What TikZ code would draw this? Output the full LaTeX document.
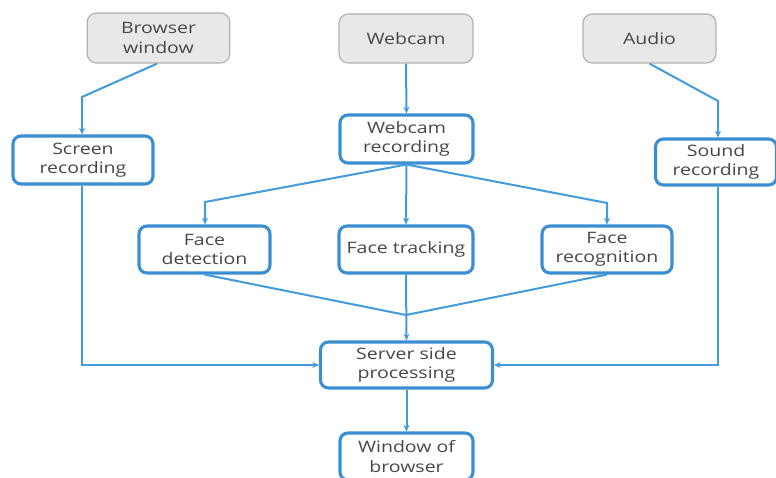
\documentclass[tikz,border=0pt]{standalone}
\usepackage{fontspec}
\setmainfont{Open Sans}[FakeStretch=1.24]
\usetikzlibrary{arrows.meta,calc}
\definecolor{lblue}{HTML}{429BDA}
\definecolor{bblue}{HTML}{3A8FD2}
\definecolor{gfill}{HTML}{E8E8E8}
\definecolor{gline}{HTML}{B2B2B2}
\definecolor{txt}{HTML}{474747}
\begin{document}
\begin{tikzpicture}[x=0.75pt,y=-0.75pt,
  base/.style={align=center,text=txt,font=\fontsize{11.8pt}{14.5pt}\selectfont,inner sep=0pt},
  srcbox/.style={base,rectangle,rounded corners=7pt,draw=gline,line width=0.9pt,fill=gfill},
  procbox/.style={base,rectangle,rounded corners=6pt,draw=bblue,line width=2.3pt,fill=white},
  conn/.style={draw=lblue,line width=1.5pt},
  arr/.style={conn,-{Stealth[length=5pt,width=4.5pt]}}]
\useasboundingbox (0,0) rectangle (776,478);
\fill[white] (0,0) rectangle (776,478);
% sources
\node[srcbox,minimum width=107pt,minimum height=37.5pt] (bw) at (158.5,38) {Browser\\window};
\node[srcbox,minimum width=100.5pt,minimum height=36.75pt] (wc) at (406,38.5) {Webcam};
\node[srcbox,minimum width=99.75pt,minimum height=36.75pt] (au) at (649.5,38.5) {Audio};
% recordings
\node[procbox,minimum width=105pt,minimum height=36pt] (sr) at (83,160) {Screen\\recording};
\node[procbox,minimum width=99.75pt,minimum height=36pt] (wr) at (406.5,139) {Webcam\\recording};
\node[procbox,minimum width=90.75pt,minimum height=34.5pt] (so) at (716,162) {Sound\\recording};
% face
\node[procbox,minimum width=98.25pt,minimum height=35.25pt] (fd) at (204.5,249.5) {Face\\detection};
\node[procbox,minimum width=100.5pt,minimum height=35.25pt] (ft) at (406,249.5) {Face tracking};
\node[procbox,minimum width=97.5pt,minimum height=35.25pt] (fr) at (607,249.5) {Face\\recognition};
% server
\node[procbox,minimum width=129pt,minimum height=34.5pt] (sp) at (406.5,365) {Server side\\processing};
\node[procbox,minimum width=99.75pt,minimum height=35.25pt] (wb) at (406.5,456.5) {Window of\\browser};
% helper coordinates
\coordinate (k1) at (82,97);
\coordinate (k2) at (718,101);
\coordinate (k3) at (205,202);
\coordinate (k4) at (607,203);
\coordinate (m) at (406,315);
% connectors
\draw[arr] ([xshift=-1pt]bw.south) -- (k1) -- (k1 |- sr.north);
\draw[arr] (wc.south) -- (wr.north);
\draw[arr] (au.south) -- (k2) -- (k2 |- so.north);
\draw[arr] (wr.south) -- (k3) -- (k3 |- fd.north);
\draw[arr] (wr.south) -- (ft.north);
\draw[arr] (wr.south) -- (k4) -- (fr.north);
\draw[conn] (fd.south) -- (m);
\draw[conn] (fr.south) -- (m);
\draw[arr] (ft.south) -- (sp.north);
\draw[arr] (k1 |- sr.south) -- (k1 |- sp.west) -- (sp.west);
\draw[arr] (k2 |- so.south) -- (k2 |- sp.east) -- (sp.east);
\draw[arr] (sp.south) -- (wb.north);
\end{tikzpicture}
\end{document}
